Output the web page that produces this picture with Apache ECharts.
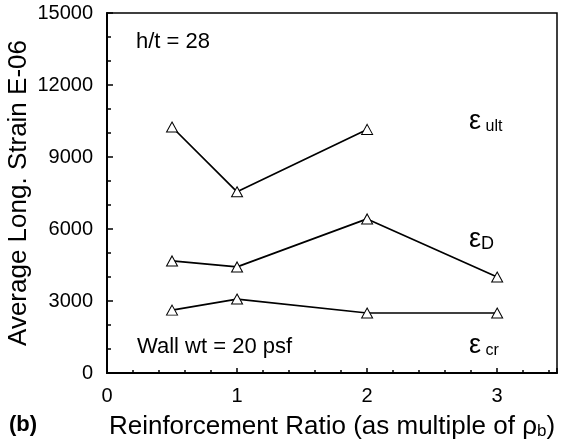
<!DOCTYPE html>
<html><head><meta charset="utf-8">
<script src="https://cdn.jsdelivr.net/npm/echarts@6/dist/echarts.min.js"></script>
<style>html,body{margin:0;padding:0;background:#fff}#c{width:561px;height:446px}</style>
</head><body><div id="c"></div>
<script>
// ---- data ----
const ratioUlt = [0.5, 1, 2];
const strainUlt = [10250, 7550, 10150];
const ratioD = [0.5, 1, 2, 3];
const strainD = [4670, 4420, 6420, 4000];
const ratioCr = [0.5, 1, 2, 3];
const strainCr = [2620, 3080, 2500, 2500];
const xTickLabels = ['0', '1', '2', '3'];
const yTickLabels = ['0', '3000', '6000', '9000', '12000', '15000'];

const FONT = 'Liberation Sans';
const pairs = (xs, ys) => xs.map((x, i) => [x, ys[i]]);
const lineSeries = (name, xs, ys) => ({
  name, type: 'line', data: pairs(xs, ys),
  symbol: 'triangle', symbolSize: [11, 10], showSymbol: true,
  lineStyle: { color: '#000', width: 1.7 },
  itemStyle: { color: '#fff', borderColor: '#000', borderWidth: 1 },
  z: 3, animation: false
});

const chart = echarts.init(document.getElementById('c'), null, { renderer: 'canvas' });
chart.setOption({
  backgroundColor: '#fff',
  animation: false,
  grid: { left: 107, top: 13, right: 4, bottom: 73, containLabel: false, outerBoundsMode: 'none',
    show: true, borderColor: '#000', borderWidth: 1.5, backgroundColor: 'transparent' },
  xAxis: {
    type: 'value', min: 0, max: 3.46, interval: 1,
    axisLine: { show: true, onZero: false, lineStyle: { color: '#000', width: 2 } },
    axisTick: { show: true, inside: true, length: 5, lineStyle: { color: '#000', width: 1.5 } },
    minorTick: { show: true, splitNumber: 5, length: 3, lineStyle: { color: '#000', width: 1.5 } },
    splitLine: { show: false },
    axisLabel: { color: '#000', fontFamily: FONT, fontSize: 20, margin: 13,
      formatter: v => (Number.isInteger(v) ? xTickLabels[v] : '') },
    name: '{t|Reinforcement Ratio (as multiple of ρ}{s|b}{t|)}',
    nameLocation: 'middle', nameGap: 37, nameMoveOverlap: false,
    nameTextStyle: { rich: {
      t: { fontFamily: FONT, fontSize: 26, color: '#000', lineHeight: 30, verticalAlign: 'bottom' },
      s: { fontFamily: FONT, fontSize: 17, color: '#000', lineHeight: 17, verticalAlign: 'bottom' }
    } }
  },
  yAxis: {
    type: 'value', min: 0, max: 15000, interval: 3000,
    axisLine: { show: true, lineStyle: { color: '#000', width: 2 } },
    axisTick: { show: true, inside: true, length: 6, lineStyle: { color: '#000', width: 1.5 } },
    minorTick: { show: true, splitNumber: 3, length: 4, lineStyle: { color: '#000', width: 1.5 } },
    splitLine: { show: false },
    axisLabel: { color: '#000', fontFamily: FONT, fontSize: 20, margin: 14,
      formatter: v => yTickLabels[Math.round(v / 3000)] },
    name: 'Average Long. Strain E-06',
    nameLocation: 'middle', nameGap: 75, nameRotate: 90, nameMoveOverlap: false,
    nameTextStyle: { color: '#000', fontFamily: FONT, fontSize: 26 }
  },
  series: [
    lineSeries('ult', ratioUlt, strainUlt),
    lineSeries('D', ratioD, strainD),
    lineSeries('cr', ratioCr, strainCr)
  ],
  graphic: [
    { type: 'text', left: 136, top: 31, style: { text: 'h/t = 28', fontFamily: FONT, fontSize: 22, fill: '#000' } },
    { type: 'text', left: 137, top: 336, style: { text: 'Wall wt = 20 psf', fontFamily: FONT, fontSize: 22, fill: '#000' } },
    { type: 'text', left: 9, top: 414, style: { text: '(b)', fontFamily: FONT, fontSize: 22, fontWeight: 'bold', fill: '#000' } },
    { type: 'text', left: 469, top: 108, style: { text: '{e|ε}{s| ult}', rich: {
      e: { fontFamily: FONT, fontSize: 27, fill: '#000', lineHeight: 30, verticalAlign: 'bottom' },
      s: { fontFamily: FONT, fontSize: 16, fill: '#000', lineHeight: 18, verticalAlign: 'bottom' } } } },
    { type: 'text', left: 469, top: 226, style: { text: '{e|ε}{s|D}', rich: {
      e: { fontFamily: FONT, fontSize: 27, fill: '#000', lineHeight: 30, verticalAlign: 'bottom' },
      s: { fontFamily: FONT, fontSize: 18, fill: '#000', lineHeight: 20, verticalAlign: 'bottom' } } } },
    { type: 'text', left: 469, top: 332, style: { text: '{e|ε}{s| cr}', rich: {
      e: { fontFamily: FONT, fontSize: 27, fill: '#000', lineHeight: 30, verticalAlign: 'bottom' },
      s: { fontFamily: FONT, fontSize: 16, fill: '#000', lineHeight: 18, verticalAlign: 'bottom' } } } }
  ]
});
</script></body></html>
